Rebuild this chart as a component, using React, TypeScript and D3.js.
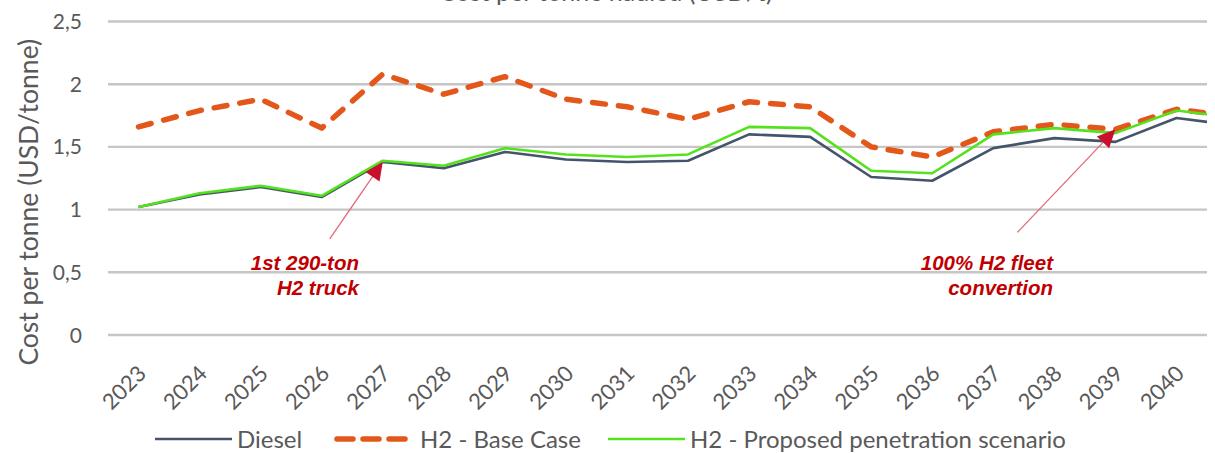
import * as d3 from "d3";
import { useEffect } from "react";

const years = [
  "2023", "2024", "2025", "2026", "2027", "2028", "2029", "2030", "2031",
  "2032", "2033", "2034", "2035", "2036", "2037", "2038", "2039", "2040",
];
// last value of each series belongs to the year after 2040, which is cut off at the plot edge
const diesel = [1.02, 1.12, 1.18, 1.1, 1.38, 1.33, 1.46, 1.4, 1.38, 1.39, 1.6, 1.58, 1.26, 1.23, 1.49, 1.57, 1.54, 1.73, 1.67];
const baseCase = [1.66, 1.79, 1.88, 1.65, 2.08, 1.92, 2.06, 1.88, 1.82, 1.72, 1.86, 1.82, 1.5, 1.42, 1.62, 1.68, 1.64, 1.8, 1.74];
const proposed = [1.02, 1.13, 1.19, 1.11, 1.39, 1.35, 1.49, 1.44, 1.42, 1.44, 1.66, 1.65, 1.31, 1.29, 1.6, 1.65, 1.61, 1.79, 1.73];
const yTicks = [0, 0.5, 1, 1.5, 2, 2.5];

const W = 1215;
const H = 453;
const PLOT = { left: 108, right: 1207, top: 21.5, bottom: 335 };
const FONT = "Lato, 'Open Sans', sans-serif";
const GREY = "#595959";
const DARK = "#44546A";
const ORANGE = "#E4571B";
const GREEN = "#55E21E";
const RED = "#C00000";

export default function App() {
  useEffect(() => {
    document.body.style.margin = "0";
  }, []);

  const x = d3.scaleLinear().domain([-0.5, years.length - 0.5]).range([PLOT.left, PLOT.right]);
  const y = d3.scaleLinear().domain([0, 2.5]).range([PLOT.bottom, PLOT.top]);
  const line = d3
    .line<number>()
    .x((_, i) => x(i))
    .y((d) => y(d));

  const fmt = (v: number) => String(v).replace(".", ",");

  const arrows = [
    { tipX: x(4), tipY: y(diesel[4]), dx: -53, dy: 77, lines: ["1st 290-ton", "H2 truck"], textX: 359 },
    { tipX: x(16), tipY: y(baseCase[16]), dx: -98, dy: 103, lines: ["100% H2 fleet", "convertion"], textX: 1053 },
  ];

  const legend = [
    { label: "Diesel", color: DARK, dash: false, x0: 155 },
    { label: "H2 - Base Case", color: ORANGE, dash: true, x0: 334 },
    { label: "H2 - Proposed penetration scenario", color: GREEN, dash: false, x0: 608 },
  ];

  return (
    <svg width={W} height={H} style={{ display: "block", background: "#fff" }} fontFamily={FONT}>
      <defs>
        <clipPath id="plotClip">
          <rect x={PLOT.left} y={0} width={PLOT.right - PLOT.left} height={H} />
        </clipPath>
      </defs>

      {/* title, mostly cut off at the top edge as in the source image */}
      <text x={606} y={0.5} textAnchor="middle" fontSize={25} fill={GREY}>
        Cost per tonne hauled (USD/t)
      </text>

      {/* gridlines */}
      {yTicks.map((t) => (
        <line key={t} x1={PLOT.left} x2={PLOT.right} y1={y(t)} y2={y(t)} stroke="#C6C6C6" strokeWidth={2.4} />
      ))}

      {/* y tick labels */}
      {yTicks.map((t) => (
        <text key={"l" + t} x={82} y={y(t)} dy="0.36em" textAnchor="end" fontSize={21} fill={GREY}>
          {fmt(t)}
        </text>
      ))}

      <text transform={`translate(38,${(PLOT.top + PLOT.bottom) / 2 + 24}) rotate(-90)`} textAnchor="middle" fontSize={26.5} fill={GREY}>
        Cost per tonne (USD/tonne)
      </text>

      {/* x tick labels */}
      {years.map((yr, i) => (
        <text key={yr} transform={`translate(${x(i) + 9},${PLOT.bottom + 40}) rotate(-45)`} textAnchor="end" fontSize={22} fill={GREY}>
          {yr}
        </text>
      ))}

      {/* series */}
      <g clipPath="url(#plotClip)" fill="none" strokeLinejoin="round">
        <path d={line(diesel) ?? ""} stroke={DARK} strokeWidth={2.6} />
        <path d={line(baseCase) ?? ""} stroke={ORANGE} strokeWidth={5.5} strokeDasharray="13 13" strokeLinecap="round" />
        <path d={line(proposed) ?? ""} stroke={GREEN} strokeWidth={2.6} />
      </g>

      {/* annotations */}
      {arrows.map((a, k) => (
        <g key={k}>
          <line x1={a.tipX + a.dx} y1={a.tipY + a.dy} x2={a.tipX} y2={a.tipY} stroke="#E06A76" strokeWidth={1.3} />
          <path
            d="M0,0 L-18,-8.5 L-18,8.5 z"
            fill="#C8102E"
            transform={`translate(${a.tipX},${a.tipY}) rotate(${(Math.atan2(-a.dy, -a.dx) * 180) / Math.PI})`}
          />
          {a.lines.map((t, j) => (
            <text key={t} x={a.textX} y={270 + j * 25} textAnchor="end" fontSize={20.5} fontWeight="bold" fontStyle="italic" fill={RED} fontFamily="'Liberation Sans', Arial, sans-serif">
              {t}
            </text>
          ))}
        </g>
      ))}

      {/* legend */}
      {legend.map((l) => (
        <g key={l.label}>
          <line
            x1={l.dash ? l.x0 + 3 : l.x0}
            x2={l.dash ? l.x0 + 74 : l.x0 + 77}
            y1={439}
            y2={439}
            stroke={l.color}
            strokeWidth={l.dash ? 5.5 : 2.6}
            strokeDasharray={l.dash ? "16 10" : undefined}
            strokeLinecap={l.dash ? "round" : "butt"}
          />
          <text x={l.x0 + (l.dash ? 86 : 82)} y={439} dy="0.36em" fontSize={24} fill={GREY}>
            {l.label}
          </text>
        </g>
      ))}
    </svg>
  );
}
